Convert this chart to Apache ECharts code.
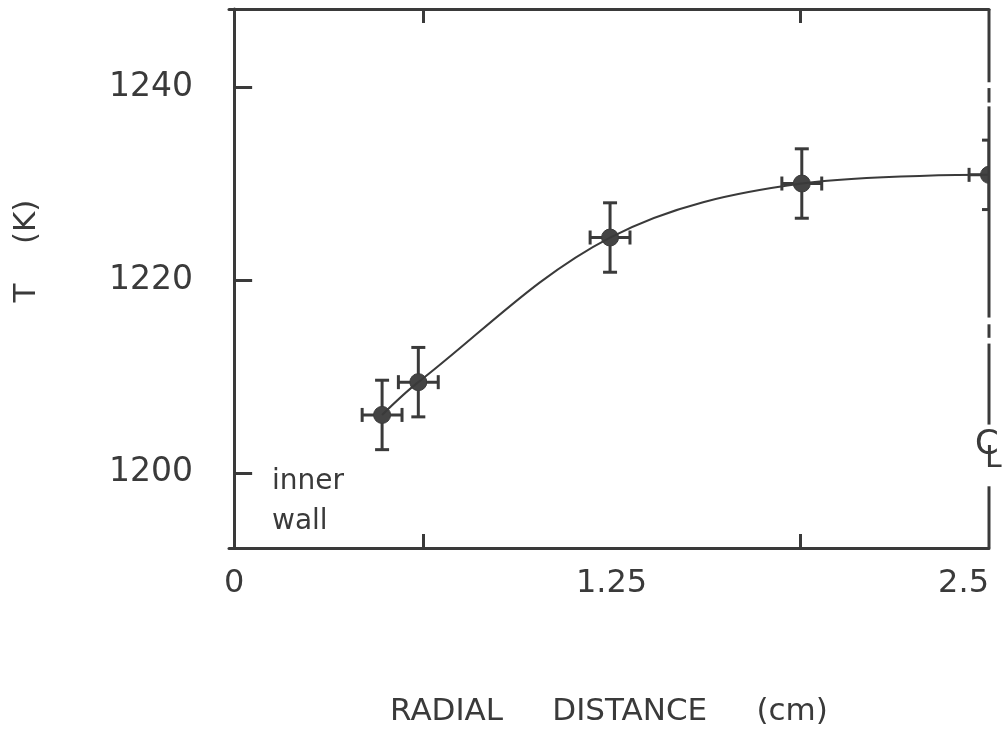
<!DOCTYPE html>
<html>
<head>
<meta charset="utf-8">
<script src="https://cdn.jsdelivr.net/npm/echarts@6/dist/echarts.min.js"></script>
<style>html,body{margin:0;padding:0;background:#fff}#c{width:1008px;height:729px}</style>
</head>
<body>
<div id="c"></div>
<script>
const radial = [0.49, 0.61, 1.245, 1.88, 2.5];
const temps = [1206.0, 1209.4, 1224.4, 1230.0, 1230.9];
const xErr = [0.066, 0.066, 0.066, 0.066, 0.066];
const yErr = [3.6, 3.6, 3.6, 3.6, 3.6];
const xLabels = [0, 1.25, 2.5];
const xTicks = [0.625, 1.875];
const yLabels = [1200, 1220, 1240];
// centre-line (dash-dot) pieces along r = 2.5, as [from T, to T]
const centreLineX = 2.5;
const centreLinePieces = [[1248.1, 1240.5], [1239.9, 1238.4], [1238.0, 1216.1], [1215.4, 1214.0], [1213.4, 1205.0], [1198.6, 1192.2]];

const ink = '#3a3a3a';
const font = 'DejaVu Sans';
const chart = echarts.init(document.getElementById('c'));

const errData = radial.map((x, i) => [x, temps[i], xErr[i], yErr[i]]);
const lineData = radial.map((x, i) => [x, temps[i]]);

chart.setOption({
  animation: false,
  backgroundColor: '#fff',
  grid: {left: 229, right: 19, top: 9, bottom: 181, outerBoundsMode: 'none', containLabel: false},
  xAxis: [{
    type: 'value', min: -0.017, max: 2.5, position: 'bottom',
    axisLine: {show: true, lineStyle: {color: ink, width: 3}},
    splitLine: {show: false},
    axisTick: {show: true, inside: true, length: 14, customValues: xTicks, lineStyle: {color: ink, width: 3}},
    axisLabel: {customValues: xLabels, margin: 20, color: ink, fontFamily: font, fontSize: 32,
      alignMaxLabel: 'right', formatter: v => String(v)},
    name: 'RADIAL     DISTANCE     (cm)', nameLocation: 'middle', nameGap: 148,
    nameTextStyle: {color: ink, fontFamily: font, fontSize: 31}
  }, {
    type: 'value', min: -0.017, max: 2.5, position: 'top',
    axisLine: {show: true, lineStyle: {color: ink, width: 3}},
    splitLine: {show: false},
    axisTick: {show: true, inside: true, length: 14, customValues: xTicks, lineStyle: {color: ink, width: 3}},
    axisLabel: {show: false}
  }],
  yAxis: {
    type: 'value', min: 1192.2, max: 1248.1,
    axisLine: {show: true, lineStyle: {color: ink, width: 3}},
    splitLine: {show: false},
    axisTick: {show: true, inside: true, length: 18, customValues: yLabels, lineStyle: {color: ink, width: 3}},
    axisLabel: {customValues: yLabels, margin: 36, color: ink, fontFamily: font, fontSize: 33,
      formatter: v => String(v)}
  },
  series: [{
    type: 'line', data: lineData, smooth: 0.35, symbol: 'none',
    lineStyle: {color: ink, width: 2}
  }, {
    type: 'custom', clip: true, data: errData,
    renderItem: function (params, api) {
      const x = api.value(0), y = api.value(1), dx = api.value(2), dy = api.value(3);
      const c = api.coord([x, y]);
      const t = api.coord([x, y + dy]);
      const b = api.coord([x, y - dy]);
      const l = api.coord([x - dx, y]);
      const r = api.coord([x + dx, y]);
      const cap = 7;
      const st = {stroke: ink, lineWidth: 3};
      return {
        type: 'group',
        children: [
          {type: 'line', shape: {x1: t[0], y1: t[1], x2: b[0], y2: b[1]}, style: st},
          {type: 'line', shape: {x1: t[0] - cap, y1: t[1], x2: t[0] + cap, y2: t[1]}, style: st},
          {type: 'line', shape: {x1: b[0] - cap, y1: b[1], x2: b[0] + cap, y2: b[1]}, style: st},
          {type: 'line', shape: {x1: l[0], y1: l[1], x2: r[0], y2: r[1]}, style: st},
          {type: 'line', shape: {x1: l[0], y1: l[1] - cap, x2: l[0], y2: l[1] + cap}, style: st},
          {type: 'line', shape: {x1: r[0], y1: r[1] - cap, x2: r[0], y2: r[1] + cap}, style: st},
          {type: 'circle', shape: {cx: c[0], cy: c[1], r: 8.5}, style: {fill: '#444', stroke: ink, lineWidth: 1}}
        ]
      };
    }
  }]
});

// centre line pieces placed through the chart's own scales
const centreGraphics = centreLinePieces.map(p => {
  const a = chart.convertToPixel({gridIndex: 0}, [centreLineX, p[0]]);
  const b = chart.convertToPixel({gridIndex: 0}, [centreLineX, p[1]]);
  return {type: 'line', z: 10, shape: {x1: a[0], y1: a[1], x2: b[0], y2: b[1]}, style: {stroke: ink, lineWidth: 3}};
});
chart.setOption({
  graphic: centreGraphics.concat([
    {type: 'text', x: 27, y: 251, rotation: Math.PI / 2,
      style: {text: 'T    (K)', fill: ink, font: '31px "DejaVu Sans"', align: 'center', verticalAlign: 'middle'}},
    {type: 'text', left: 272, top: 462, style: {text: 'inner\nwall', fill: ink, font: '28px "DejaVu Sans"', lineHeight: 40}},
    {type: 'text', left: 975, top: 428, style: {text: 'C', fill: ink, font: '34px "DejaVu Sans"'}},
    {type: 'text', left: 985, top: 444, style: {text: 'L', fill: ink, font: '30px "DejaVu Sans"'}}
  ])
});
</script>
</body>
</html>
